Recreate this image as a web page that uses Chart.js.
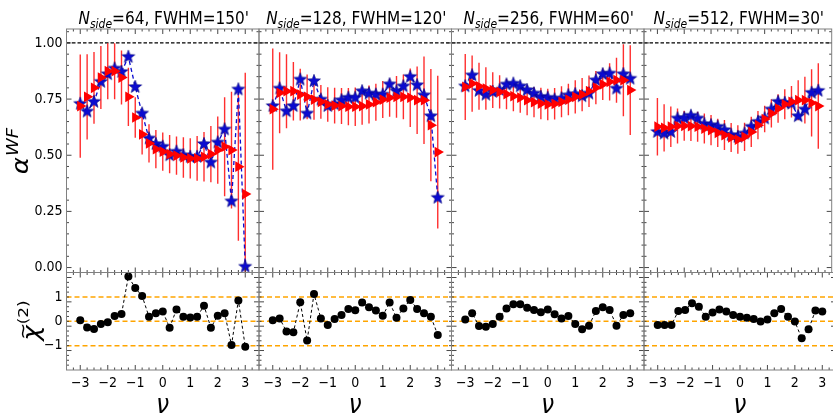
<!DOCTYPE html>
<html>
<head>
<meta charset="utf-8">
<script src="https://cdn.jsdelivr.net/npm/chart.js@4.4.1/dist/chart.umd.min.js"></script>
<style>
  html, body { margin: 0; padding: 0; background: #fff; }
  #fig { position: relative; width: 833px; height: 416px; overflow: hidden; background: #fff; }
  #fig canvas { position: absolute; left: 0; top: 0; }
</style>
</head>
<body>
<div id="fig"></div>
<script>
/* ---------- data ---------- */
const nu = [-3, -2.75, -2.5, -2.25, -2, -1.75, -1.5, -1.25, -1, -0.75, -0.5, -0.25,
            0, 0.25, 0.5, 0.75, 1, 1.25, 1.5, 1.75, 2, 2.25, 2.5, 2.75, 3];

const nsides = [64, 128, 256, 512];
const fwhms = [150, 120, 60, 30];

// alpha^WF : blue stars (single map), red triangles (mean) with error bars
const star64 = [0.729, 0.695, 0.738, 0.827, 0.861, 0.886, 0.871, 0.938, 0.804, 0.686, 0.575, 0.550, 0.538,
                0.500, 0.516, 0.500, 0.493, 0.493, 0.550, 0.468, 0.557, 0.615, 0.295, 0.793, 0.004];
const tri64  = [0.719, 0.760, 0.800, 0.846, 0.874, 0.874, 0.846, 0.760, 0.668, 0.593, 0.553, 0.527, 0.516,
                0.505, 0.498, 0.490, 0.486, 0.486, 0.493, 0.505, 0.523, 0.538, 0.523, 0.449, 0.327];
const err64  = [0.23, 0.19, 0.16, 0.14, 0.125, 0.125, 0.12, 0.13, 0.09, 0.09, 0.085, 0.085, 0.085,
                0.085, 0.085, 0.09, 0.09, 0.10, 0.11, 0.125, 0.15, 0.22, 0.26, 0.33, 0.54];
const chi64  = [0.04, -0.25, -0.32, -0.11, -0.04, 0.22, 0.30, 1.84, 1.37, 1.04, 0.19, 0.33, 0.40,
                -0.26, 0.49, 0.19, 0.16, 0.19, 0.64, -0.26, 0.23, 0.33, -0.97, 0.86, -1.04];

const star128 = [0.719, 0.797, 0.696, 0.719, 0.837, 0.686, 0.830, 0.748, 0.719, 0.727, 0.745, 0.756, 0.756,
                 0.785, 0.775, 0.770, 0.770, 0.816, 0.785, 0.807, 0.849, 0.812, 0.767, 0.674, 0.311];
const tri128  = [0.705, 0.778, 0.785, 0.785, 0.770, 0.760, 0.748, 0.738, 0.726, 0.721, 0.719, 0.716, 0.716,
                 0.719, 0.726, 0.736, 0.748, 0.756, 0.760, 0.760, 0.756, 0.745, 0.745, 0.634, 0.514];
const err128  = [0.27, 0.18, 0.165, 0.13, 0.115, 0.10, 0.09, 0.075, 0.077, 0.08, 0.08, 0.083, 0.086,
                 0.083, 0.085, 0.082, 0.082, 0.085, 0.093, 0.10, 0.13, 0.15, 0.195, 0.25, 0.34];
const chi128  = [0.04, 0.12, -0.42, -0.45, 0.78, -0.79, 1.12, 0.12, -0.15, 0.10, 0.26, 0.51, 0.45,
                 0.77, 0.58, 0.44, 0.23, 0.77, 0.15, 0.53, 0.88, 0.51, 0.33, 0.19, -0.56];

const star256 = [0.807, 0.856, 0.787, 0.770, 0.782, 0.790, 0.815, 0.819, 0.807, 0.790, 0.775, 0.760, 0.756,
                 0.748, 0.753, 0.767, 0.772, 0.763, 0.775, 0.834, 0.861, 0.864, 0.797, 0.861, 0.841];
const tri256  = [0.804, 0.819, 0.807, 0.797, 0.790, 0.782, 0.772, 0.763, 0.756, 0.745, 0.736, 0.730, 0.726,
                 0.729, 0.738, 0.748, 0.760, 0.770, 0.785, 0.801, 0.816, 0.827, 0.834, 0.834, 0.790];
const err256  = [0.147, 0.125, 0.105, 0.095, 0.08, 0.074, 0.067, 0.067, 0.067, 0.067, 0.067, 0.07, 0.07,
                 0.07, 0.069, 0.07, 0.074, 0.074, 0.07, 0.074, 0.07, 0.083, 0.10, 0.16, 0.20];
const chi256  = [0.08, 0.33, -0.19, -0.22, -0.11, 0.19, 0.53, 0.70, 0.70, 0.56, 0.47, 0.37, 0.49,
                 0.29, 0.12, 0.22, -0.11, -0.33, -0.18, 0.42, 0.58, 0.47, -0.18, 0.26, 0.33];

const star512 = [0.604, 0.597, 0.604, 0.664, 0.665, 0.676, 0.664, 0.639, 0.634, 0.627, 0.612, 0.590, 0.582,
                 0.597, 0.627, 0.649, 0.664, 0.704, 0.738, 0.733, 0.730, 0.674, 0.704, 0.778, 0.787];
const tri512  = [0.627, 0.622, 0.627, 0.630, 0.631, 0.630, 0.627, 0.619, 0.612, 0.600, 0.590, 0.579, 0.570,
                 0.582, 0.604, 0.634, 0.661, 0.686, 0.708, 0.727, 0.738, 0.745, 0.745, 0.733, 0.719];
const err512  = [0.128, 0.105, 0.09, 0.078, 0.067, 0.067, 0.067, 0.067, 0.067, 0.063, 0.067, 0.065, 0.063,
                 0.063, 0.067, 0.063, 0.059, 0.063, 0.063, 0.067, 0.07, 0.089, 0.104, 0.15, 0.19];
const chi512  = [-0.15, -0.15, -0.15, 0.42, 0.47, 0.74, 0.60, 0.19, 0.36, 0.49, 0.40, 0.26, 0.19,
                 0.15, 0.10, -0.01, 0.08, 0.33, 0.51, 0.19, -0.01, -0.70, -0.33, 0.44, 0.40];

const alphaTicks = [0, 0.25, 0.5, 0.75, 1];
const chiTicks = [-1, 0, 1];
const nuTicks = [-3, -2, -1, 0, 1, 2, 3];
const alphaRef = [1];
const chiRef = [-1, 0, 1];

/* ---------- layout ---------- */
const W = 840, H = 416;
const colLeft = [66.5, 259, 451.5, 644];
const colW = 192.5;
const topRow = [29, 272.5];
const botRow = [272.5, 370];
const SANS = "'DejaVu Sans', sans-serif";
const TICK_FAMILY = "'DejaVu Sans Condensed', 'DejaVu Sans', sans-serif";

const panels = [
  { star: star64, tri: tri64, err: err64, chi: chi64 },
  { star: star128, tri: tri128, err: err128, chi: chi128 },
  { star: star256, tri: tri256, err: err256, chi: chi256 },
  { star: star512, tri: tri512, err: err512, chi: chi512 }
];

// filled five-point star used as point style
function makeStar(r, fill) {
  const s = Math.ceil(r * 2 + 2);
  const c = document.createElement('canvas');
  c.width = s; c.height = s;
  const g = c.getContext('2d');
  g.beginPath();
  for (let k = 0; k < 10; k++) {
    const rr = k % 2 ? r * 0.42 : r;
    const a = -Math.PI / 2 + k * Math.PI / 5;
    g.lineTo(s / 2 + rr * Math.cos(a), s / 2 + rr * Math.sin(a));
  }
  g.closePath();
  g.fillStyle = fill; g.fill();
  g.strokeStyle = '#00007a'; g.lineWidth = 0.6; g.stroke();
  return c;
}
const starImg = makeStar(6.8, '#0b0bd0');

function minusFmt(v) {
  return v < 0 ? '\u2212' + Math.abs(v) : String(v);
}

function richText(ctx, parts, cx, baseline) {
  let total = 0;
  const ws = parts.map(p => { ctx.font = p.font; const w = ctx.measureText(p.text).width + (p.gap || 0); total += w; return w; });
  let x = cx - total / 2;
  ctx.textAlign = 'left';
  ctx.textBaseline = 'alphabetic';
  ctx.fillStyle = '#000';
  parts.forEach((p, i) => {
    ctx.font = p.font;
    ctx.fillText(p.text, x + (p.gap || 0), baseline + (p.dy || 0));
    x += ws[i];
  });
}

function seg(ctx, x0, y0, x1, y1) {
  ctx.beginPath(); ctx.moveTo(x0, y0); ctx.lineTo(x1, y1); ctx.stroke();
}

// reference lines, error bars, inward ticks, frame and labels of one panel
function panelDecor(col, row) {
  const p = panels[col];
  return {
    id: 'panelDecor',
    beforeDatasetsDraw(chart) {
      const { ctx, chartArea: a, scales: { x, y } } = chart;
      ctx.save();
      ctx.beginPath(); ctx.rect(a.left, a.top, a.width, a.height); ctx.clip();
      if (row === 0) {
        ctx.strokeStyle = '#000'; ctx.lineWidth = 1.2; ctx.setLineDash([3.5, 2]);
        alphaRef.forEach(v => { const py = y.getPixelForValue(v); seg(ctx, a.left, py, a.right, py); });
        ctx.setLineDash([]);
        ctx.strokeStyle = 'rgba(255,0,0,0.82)'; ctx.lineWidth = 1.4;
        p.err.forEach((e, i) => {
          const px = x.getPixelForValue(nu[i]);
          seg(ctx, px, y.getPixelForValue(p.tri[i] - e), px, y.getPixelForValue(p.tri[i] + e));
        });
      } else {
        ctx.strokeStyle = '#ffa500'; ctx.lineWidth = 1.5; ctx.setLineDash([5, 3]);
        chiRef.forEach(v => { const py = y.getPixelForValue(v); seg(ctx, a.left, py, a.right, py); });
      }
      ctx.restore();
    },
    afterDatasetsDraw(chart) {
      const { ctx, chartArea: a, scales: { x, y } } = chart;
      ctx.save();
      ctx.strokeStyle = '#333'; ctx.lineWidth = 0.9;
      // x ticks every 0.25, majors on integers
      for (let k = 1; k < 28; k++) {
        const v = -3.5 + k * 0.25;
        const len = Number.isInteger(v) ? 5 : 2.5;
        const px = x.getPixelForValue(v);
        seg(ctx, px, a.bottom, px, a.bottom - len);
        seg(ctx, px, a.top, px, a.top + len);
      }
      // y ticks
      const yt = row === 0
        ? Array.from({ length: 22 }, (_, k) => ({ v: k * 0.05, major: k % 5 === 0 }))
        : Array.from({ length: 19 }, (_, k) => ({ v: -1.8 + k * 0.2, major: (k + 1) % 5 === 4 }));
      yt.forEach(t => {
        const len = t.major ? 5 : 2.5;
        const py = y.getPixelForValue(t.v);
        seg(ctx, a.left, py, a.left + len, py);
        seg(ctx, a.right, py, a.right - len, py);
      });
      ctx.strokeStyle = '#808080'; ctx.lineWidth = 1;
      ctx.strokeRect(a.left, a.top, a.width, a.height);
      ctx.restore();
    },
    afterDraw(chart) {
      const { ctx, chartArea: a } = chart;
      const cx = (a.left + a.right) / 2;
      if (row === 0) {
        ctx.save();
        ctx.translate(cx + 1, 24); ctx.scale(0.9, 1);
        richText(ctx, [
          { text: 'N', font: `italic 17px ${SANS}` },
          { text: 'side', font: `italic 12px ${SANS}`, dy: 4 },
          { text: `=${nsides[col]}, FWHM=${fwhms[col]}'`, font: `17px ${SANS}` }
        ], 0, 0);
        ctx.restore();
        if (col === 0) {
          ctx.save();
          ctx.translate(28, 151); ctx.rotate(-Math.PI / 2); ctx.scale(1, 0.85);
          richText(ctx, [
            { text: '\u03b1', font: `italic 26px ${SANS}` },
            { text: 'WF', font: `italic 18px ${SANS}`, dy: -12, gap: 1 }
          ], 0, 0);
          ctx.restore();
        }
      } else {
        ctx.save();
        ctx.translate(cx, 413); ctx.scale(0.85, 1);
        richText(ctx, [{ text: '\u03bd', font: `italic 27px ${SANS}` }], 0, 0);
        ctx.restore();
        if (col === 0) {
          ctx.save();
          ctx.translate(39, 321); ctx.rotate(-Math.PI / 2); ctx.scale(1, 0.85);
          const chiFont = `italic 26px ${SANS}`, supFont = `17px ${SANS}`, tFont = `20px ${SANS}`;
          ctx.font = chiFont; const wChi = ctx.measureText('\u03c7').width;
          ctx.font = supFont; const wSup = ctx.measureText('(2)').width;
          const start = -(wChi + wSup) / 2;
          ctx.fillStyle = '#000'; ctx.textAlign = 'left'; ctx.textBaseline = 'alphabetic';
          ctx.font = chiFont; ctx.fillText('\u03c7', start, 0);
          ctx.font = tFont; const wT = ctx.measureText('~').width;
          ctx.fillText('~', start + wChi / 2 - wT / 2 + 2, -12);
          ctx.font = supFont; ctx.fillText('(2)', start + wChi + 1, -13);
          ctx.restore();
        }
      }
    }
  };
}

/* ---------- charts ---------- */
const fig = document.getElementById('fig');

function addPanel(col, row) {
  const p = panels[col];
  const canvas = document.createElement('canvas');
  canvas.width = W; canvas.height = H;
  fig.appendChild(canvas);

  const [y0, y1] = row === 0 ? topRow : botRow;
  const left = colLeft[col], right = left + colW;
  const showY = col === 0, showX = row === 1;
  const tickFont = { family: TICK_FAMILY, size: 14 };

  // first dataset is painted last, so the triangles sit above the stars
  const datasets = row === 0 ? [
    {
      data: nu.map((v, i) => ({ x: v, y: p.tri[i] })),
      showLine: false, pointStyle: 'triangle', rotation: 90, pointRadius: 6.2,
      backgroundColor: '#ff0000', borderColor: '#ff0000', borderWidth: 0
    },
    {
      data: nu.map((v, i) => ({ x: v, y: p.star[i] })),
      showLine: true, borderColor: '#0b0bd0', borderWidth: 1.3, borderDash: [4, 3],
      pointStyle: starImg, pointRadius: 7, backgroundColor: '#0b0bd0'
    }
  ] : [
    {
      data: nu.map((v, i) => ({ x: v, y: p.chi[i] })),
      showLine: true, borderColor: '#000', borderWidth: 1, borderDash: [3, 2.5],
      pointStyle: 'circle', pointRadius: 4, pointBorderWidth: 0, backgroundColor: '#000'
    }
  ];

  new Chart(canvas, {
    type: 'scatter',
    data: { datasets },
    options: {
      responsive: false,
      animation: false,
      events: [],
      layout: { padding: { left: showY ? 0 : left, right: W - right, top: y0, bottom: showX ? 0 : H - y1 } },
      scales: {
        x: {
          type: 'linear', min: -3.5, max: 3.5, display: showX,
          grid: { display: false, drawTicks: false }, border: { display: false },
          afterBuildTicks: ax => { ax.ticks = nuTicks.map(v => ({ value: v })); },
          afterFit: ax => { if (showX) ax.height = H - y1; },
          ticks: { font: tickFont, color: '#000', padding: 5, maxRotation: 0, callback: v => minusFmt(v) }
        },
        y: {
          type: 'linear',
          min: row === 0 ? -0.022 : -2,
          max: row === 0 ? 1.062 : 2.006,
          display: showY,
          grid: { display: false, drawTicks: false }, border: { display: false },
          afterBuildTicks: ax => { ax.ticks = (row === 0 ? alphaTicks : chiTicks).map(v => ({ value: v })); },
          afterFit: ax => { if (showY) ax.width = left; },
          ticks: {
            font: tickFont, color: '#000', padding: 4,
            callback: v => row === 0 ? v.toFixed(2) : minusFmt(v)
          }
        }
      },
      plugins: { legend: { display: false }, tooltip: { enabled: false } }
    },
    plugins: [panelDecor(col, row)]
  });
}

for (let c = 0; c < 4; c++) {
  addPanel(c, 0);
  addPanel(c, 1);
}
</script>
</body>
</html>
